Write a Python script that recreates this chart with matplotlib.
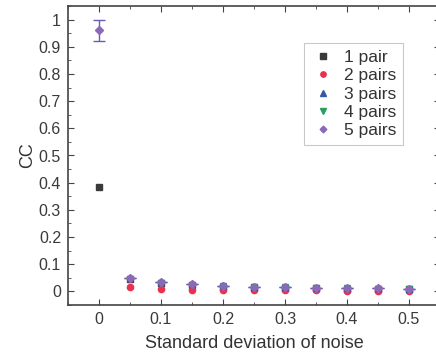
import numpy as np
import matplotlib
matplotlib.use("Agg")
import matplotlib.pyplot as plt
from matplotlib.ticker import MultipleLocator

plt.rcParams["font.family"] = ["Liberation Sans", "DejaVu Sans"]

noise = [0.0, 0.05, 0.1, 0.15, 0.2, 0.25, 0.3, 0.35, 0.4, 0.45, 0.5]
noise_pos = noise[1:]

cc_1pair = [0.385, 0.045, 0.030, 0.022, 0.018, 0.015, 0.013, 0.011, 0.010, 0.009, 0.008]
cc_2pairs = [0.015, 0.010, 0.007, 0.006, 0.005, 0.004, 0.004, 0.003, 0.003, 0.003]
cc_3pairs = [0.050, 0.035, 0.027, 0.022, 0.018, 0.016, 0.014, 0.012, 0.011, 0.010]
cc_4pairs = [0.045, 0.032, 0.025, 0.020, 0.017, 0.015, 0.013, 0.011, 0.010, 0.009]
cc_5pairs = [0.960, 0.048, 0.034, 0.026, 0.021, 0.018, 0.015, 0.013, 0.012, 0.011, 0.010]
err_5pairs = [0.040, 0, 0, 0, 0, 0, 0, 0, 0, 0, 0]

fig = plt.figure(figsize=(4.36, 3.58), dpi=100)
ax = fig.add_axes([68 / 436, 53 / 358, 372 / 436, 299 / 358])

ms = 4.5
ax.plot(noise, cc_1pair, "s", color="#3a3a3a", ms=ms, label="1 pair", zorder=3)
ax.plot(noise_pos, cc_2pairs, "o", color="#e8304f", ms=ms, label="2 pairs", zorder=3)
ax.plot(noise_pos, cc_3pairs, "^", color="#3558a8", ms=ms, label="3 pairs", zorder=3)
ax.plot(noise_pos, cc_4pairs, "v", color="#2a9d62", ms=ms, label="4 pairs", zorder=3)
ax.errorbar(noise, cc_5pairs, yerr=err_5pairs, fmt="none", ecolor="#6a5cb0",
            elinewidth=1, capsize=4, capthick=1, zorder=4)
ax.plot(noise, cc_5pairs, "D", color="#8a6ab8", ms=ms - 0.5, label="5 pairs", zorder=5)

ax.set_xlim(-0.05, 0.55)
ax.set_ylim(-0.05, 1.05)
ax.xaxis.set_minor_locator(MultipleLocator(0.05))
ax.yaxis.set_minor_locator(MultipleLocator(0.05))
ax.set_xticks(np.arange(0, 0.51, 0.1))
ax.set_xticklabels(["0", "0.1", "0.2", "0.3", "0.4", "0.5"])
ax.set_yticks(np.arange(0, 1.01, 0.1))
ax.set_yticklabels(["0"] + [f"{v:.1f}" for v in np.arange(0.1, 0.95, 0.1)] + ["1"])
ax.tick_params(which="both", direction="in", top=True, right=True, colors="#444444",
               labelcolor="#3a3a3a", labelsize=11.5)
ax.tick_params(which="major", length=4, pad=5)
ax.tick_params(which="minor", length=2)
for sp in ax.spines.values():
    sp.set_color("#444444")
    sp.set_linewidth(1.2)

ax.set_xlabel("Standard deviation of noise", fontsize=13, color="#333333", labelpad=6)
ax.set_ylabel("CC", fontsize=13, color="#333333", labelpad=2)

leg = ax.legend(loc="upper left", bbox_to_anchor=(0.61, 0.905), fontsize=12.5, frameon=True,
                fancybox=False, edgecolor="#bbbbbb", handletextpad=0.5,
                borderpad=0.4, labelspacing=0.18, handlelength=1.4, markerscale=0.85)
leg.get_frame().set_linewidth(0.8)
for t in leg.get_texts():
    t.set_color("#333333")

fig.savefig("out.png", dpi=100)
